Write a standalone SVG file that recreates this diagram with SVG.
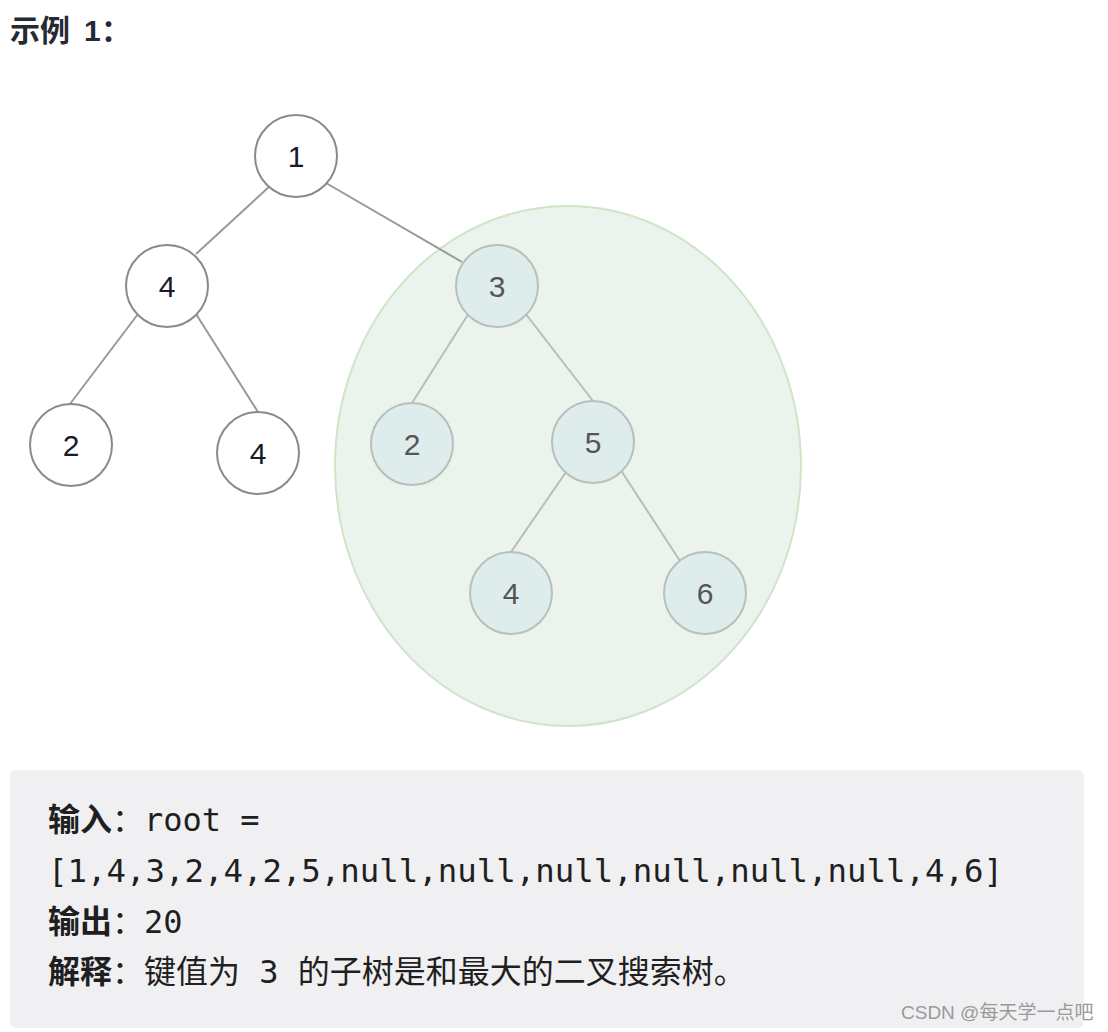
<svg xmlns="http://www.w3.org/2000/svg" width="1108" height="1032" viewBox="0 0 1108 1032">
<style>
.n circle{stroke-width:2}
.w circle{fill:#fff;stroke:#8a8a8a}
.s circle{fill:#deecec;stroke:#b8bfbc}
.n text{font-family:"Liberation Sans",Arial,sans-serif;font-size:30px;text-anchor:middle;dominant-baseline:central}
.w text{fill:#1a1a2a}
.s text{fill:#555}
.e line{stroke-width:2}
.mono{font-family:"DejaVu Sans Mono","Noto Sans CJK SC",monospace;font-size:32px;fill:#1f1f1f}
.b{font-family:"Noto Sans CJK SC",sans-serif;font-weight:bold}
.c{font-family:"Noto Sans CJK SC",sans-serif}
</style>
<rect width="1108" height="1032" fill="#fff"/>
<text y="41" font-family="Noto Sans CJK SC, sans-serif" font-weight="bold" font-size="30" fill="#262a33"><tspan x="10">示例</tspan><tspan x="84" font-family="Liberation Sans, sans-serif">1</tspan><tspan x="101">：</tspan></text>
<ellipse cx="568" cy="466" rx="233" ry="260" fill="#ebf4ec" stroke="#cfe5c7" stroke-width="2"/>
<g id="connectors" class="e">
<line x1="270" y1="186" x2="196" y2="254" stroke="#999"/>
<line x1="326" y1="183" x2="462" y2="262" stroke="#999"/>
<line x1="138" y1="314" x2="70" y2="404" stroke="#999"/>
<line x1="196" y1="314" x2="258" y2="412" stroke="#999"/>
<line x1="469" y1="313" x2="412" y2="403" stroke="#b9bdb8"/>
<line x1="525" y1="313" x2="593" y2="401" stroke="#b9bdb8"/>
<line x1="566" y1="472" x2="511" y2="552" stroke="#b9bdb8"/>
<line x1="622" y1="472" x2="680" y2="561" stroke="#b9bdb8"/>
</g>
<g id="n1" class="n w"><circle cx="296" cy="156" r="41"/><text x="296" y="156">1</text></g>
<g id="n4a" class="n w"><circle cx="167" cy="286" r="41"/><text x="167" y="286">4</text></g>
<g id="n2a" class="n w"><circle cx="71" cy="445" r="41"/><text x="71" y="445">2</text></g>
<g id="n4b" class="n w"><circle cx="258" cy="453" r="41"/><text x="258" y="453">4</text></g>
<g id="n3" class="n s"><circle cx="497" cy="286" r="41"/><text x="497" y="286">3</text></g>
<g id="n2b" class="n s"><circle cx="412" cy="444" r="41"/><text x="412" y="444">2</text></g>
<g id="n5" class="n s"><circle cx="593" cy="442" r="41"/><text x="593" y="442">5</text></g>
<g id="n4c" class="n s"><circle cx="511" cy="593" r="41"/><text x="511" y="593">4</text></g>
<g id="n6" class="n s"><circle cx="705" cy="593" r="41"/><text x="705" y="593">6</text></g>
<rect x="10" y="770" width="1074" height="258" rx="6" fill="#f0f0f2"/>
<text class="mono" x="48" y="831"><tspan class="b">输入</tspan><tspan class="c">：</tspan>root =</text>
<text class="mono" x="48" y="882" textLength="955" lengthAdjust="spacingAndGlyphs">[1,4,3,2,4,2,5,null,null,null,null,null,null,4,6]</text>
<text class="mono" x="48" y="933"><tspan class="b">输出</tspan><tspan class="c">：</tspan>20</text>
<text class="mono" x="48" y="983"><tspan class="b">解释</tspan><tspan class="c">：</tspan>键值为 3 的子树是和最大的二叉搜索树。</text>
<text x="901" y="1019" font-family="Liberation Sans, Noto Sans CJK SC, sans-serif" font-size="19" fill="#9a9a9a">CSDN @每天学一点吧</text>
</svg>
